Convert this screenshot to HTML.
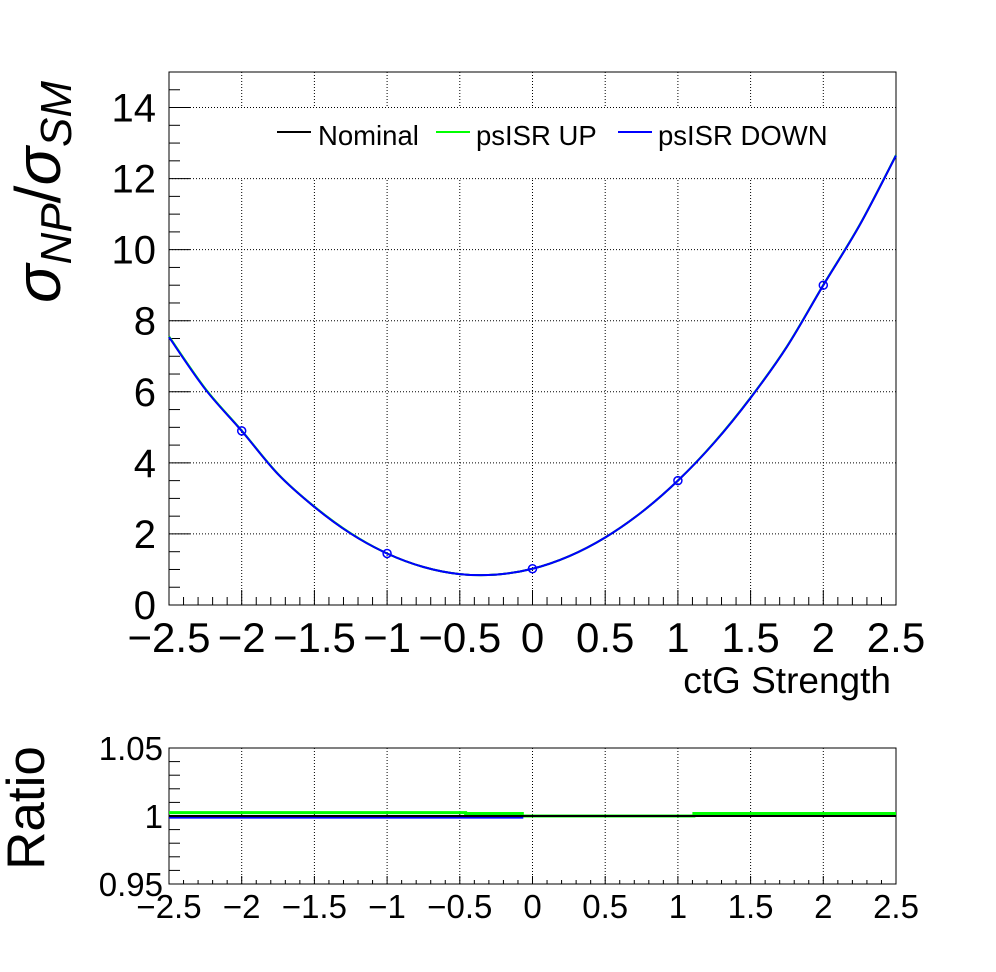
<!DOCTYPE html>
<html><head><meta charset="utf-8"><style>
body{margin:0;background:#fff}
svg{display:block;font-family:"Liberation Sans",sans-serif}
</style></head><body>
<svg id="c" width="996" height="972" viewBox="0 0 996 972">
<rect width="996" height="972" fill="#fff"/>
<g id="main"></g>
<g id="ratio"></g>
</svg>
<script>
const xs=[-2.5,-2.25,-2,-1.75,-1.5,-1.25,-1,-0.75,-0.5,-0.25,0,0.25,0.5,0.75,1,1.25,1.5,1.75,2,2.25,2.5];
const nominal=[7.55,6.08,4.9,3.68,2.76,2.01,1.45,1.07,0.87,0.855,1.02,1.37,1.9,2.61,3.5,4.57,5.83,7.27,9.0,10.69,12.65];
const psisrUp=[7.56,6.09,4.91,3.69,2.77,2.02,1.45,1.07,0.87,0.855,1.02,1.37,1.9,2.61,3.5,4.58,5.84,7.28,9.01,10.7,12.66];
const psisrDown=[7.54,6.07,4.9,3.68,2.76,2.01,1.45,1.07,0.87,0.855,1.02,1.37,1.9,2.61,3.5,4.57,5.83,7.27,9.0,10.69,12.65];
const pointX=[-2,-1,0,1,2];
const pointY=[4.9,1.45,1.02,3.5,9.0];
const xTicks=[-2.5,-2,-1.5,-1,-0.5,0,0.5,1,1.5,2,2.5];
const xTickLabels=["−2.5","−2","−1.5","−1","−0.5","0","0.5","1","1.5","2","2.5"];
const yTicks=[0,2,4,6,8,10,12,14];
const ratioEdges=[-2.5,-0.46,-0.07,1.11,2.5];
const ratioUp=[1.0025,1.0018,1.0,1.0018];
const ratioDown=[0.9988,0.9988,1.0,1.0];
const ratioNom=[1.0,1.0,1.0,1.0];
const rTicks=[0.95,1,1.05];
const rTickLabels=["0.95","1","1.05"];

const NS="http://www.w3.org/2000/svg";
function mk(p,t,a,txt){const e=document.createElementNS(NS,t);for(const k in a)e.setAttribute(k,a[k]);if(txt!==undefined)e.textContent=txt;p.appendChild(e);return e;}
const L=169,R=896;
const X=v=>L+(v+2.5)/5*(R-L);
const MT=72,MB=605;const Y=v=>MB-v/15*(MB-MT);
const RT=748,RB=884;const RY=v=>RB-(v-0.95)/0.1*(RB-RT);
const main=document.getElementById('main');
xTicks.forEach(t=>{if(t>-2.5&&t<2.5){const g=mk(main,'line',{x1:X(t),x2:X(t),y1:MT,y2:MB,stroke:'#000','stroke-width':1,'stroke-dasharray':'1,2'});

}});
yTicks.forEach(t=>{if(t>0){const g=mk(main,'line',{x1:L,x2:R,y1:Y(t),y2:Y(t),stroke:'#000','stroke-width':1,'stroke-dasharray':'1,2'});

}});
const lb=mk(main,'rect',{x:183,y:108,width:663,height:70,fill:'#fff'});


const fr=mk(main,'rect',{x:L,y:MT,width:R-L,height:MB-MT,fill:'none',stroke:'#000','stroke-width':1});


for(let i=0;i<=50;i++){const v=-2.5+i*0.1;const maj=i%5==0;const len=maj?15:8;
mk(main,'line',{x1:X(v),x2:X(v),y1:MB,y2:MB-len,stroke:'#000'});}
for(let i=0;i<=30;i++){const v=i*0.5;const maj=i%4==0;const len=maj?21:11;
mk(main,'line',{x1:L,x2:L+len,y1:Y(v),y2:Y(v),stroke:'#000'});}
xTicks.forEach((t,i)=>{const e=mk(main,'text',{x:X(t),y:652,'font-size':42,'text-anchor':'middle'},xTickLabels[i]);

});
yTicks.forEach(t=>{const e=mk(main,'text',{x:156,y:Y(t)+14,'font-size':40,'text-anchor':'end'},String(t));

});
const xt=mk(main,'text',{x:891,y:693,'font-size':37,'text-anchor':'end'},'ctG Strength');


const yt=mk(main,'text',{transform:'translate(60,192) rotate(-90)','font-size':64,'text-anchor':'middle','font-style':'italic'});


yt.innerHTML='σ<tspan font-size="44" dy="11">NP</tspan><tspan dy="-11" font-style="normal">/</tspan>σ<tspan font-size="44" dy="11">SM</tspan>';
function curve(par,arr,col,name){
const P=xs.map((x,i)=>[X(x),Y(arr[i])]);let d='M'+P[0][0]+','+P[0][1];
for(let i=0;i<P.length-1;i++){const p0=P[Math.max(0,i-1)],p1=P[i],p2=P[i+1],p3=P[Math.min(P.length-1,i+2)];
d+='C'+(p1[0]+(p2[0]-p0[0])/6)+','+(p1[1]+(p2[1]-p0[1])/6)+' '+(p2[0]-(p3[0]-p1[0])/6)+','+(p2[1]-(p3[1]-p1[1])/6)+' '+p2[0]+','+p2[1];}
const p=mk(par,'path',{d:d,fill:'none',stroke:col,'stroke-width':2});

}
curve(main,nominal,'#000','nominal-curve');
curve(main,psisrUp,'#00ff00','psisr-up-curve');
curve(main,psisrDown,'#0000ff','psisr-down-curve');
pointX.forEach((x,i)=>{const c=mk(main,'circle',{cx:X(x),cy:Y(pointY[i]),r:4,fill:'none',stroke:'#0000ff','stroke-width':1.5});

});
[['Nominal','#000',277,318],['psISR UP','#00ff00',436,476],['psISR DOWN','#0000ff',618,658]].forEach(([t,c,x1,tx])=>{
const g=mk(main,'g',{});


mk(g,'line',{x1:x1,x2:x1+34,y1:132,y2:132,stroke:c,'stroke-width':2});
mk(g,'text',{x:tx,y:145,'font-size':27.5},t);});
const rg=document.getElementById('ratio');
xTicks.forEach(t=>{if(t>-2.5&&t<2.5)mk(rg,'line',{x1:X(t),x2:X(t),y1:RT,y2:RB,stroke:'#000','stroke-dasharray':'1,2'});});
rTicks.forEach(t=>mk(rg,'line',{x1:L,x2:R,y1:RY(t),y2:RY(t),stroke:'#000','stroke-dasharray':'1,2'}));
const rf=mk(rg,'rect',{x:L,y:RT,width:R-L,height:RB-RT,fill:'none',stroke:'#000'});


for(let i=0;i<=50;i++){const v=-2.5+i*0.1;const len=i%5==0?8:4;mk(rg,'line',{x1:X(v),x2:X(v),y1:RB,y2:RB-len,stroke:'#000'});}
for(let i=0;i<=10;i++){const v=0.95+i*0.01;const len=i%5==0?21:11;mk(rg,'line',{x1:L,x2:L+len,y1:RY(v),y2:RY(v),stroke:'#000'});}
function steps(arr,col,name,w){let d='';arr.forEach((v,i)=>{d+=(i?'L':'M')+X(ratioEdges[i])+','+RY(v)+'L'+X(ratioEdges[i+1])+','+RY(v);});
const p=mk(rg,'path',{d:d,fill:'none',stroke:col,'stroke-width':w});

}
steps(ratioUp,'#00ff00','ratio-psisr-up',3);
steps(ratioDown,'#0000ff','ratio-psisr-down',2);
steps(ratioNom,'#000','ratio-nominal',2);
xTicks.forEach((t,i)=>{const e=mk(rg,'text',{x:X(t),y:918,'font-size':33,'text-anchor':'middle'},xTickLabels[i]);

});
rTicks.forEach((t,i)=>{const e=mk(rg,'text',{x:163,y:RY(t)+12,'font-size':33,'text-anchor':'end'},rTickLabels[i]);

});
const rt=mk(rg,'text',{transform:'translate(44,808) rotate(-90)','font-size':53,'text-anchor':'middle'},'Ratio');


</script>
</body></html>
